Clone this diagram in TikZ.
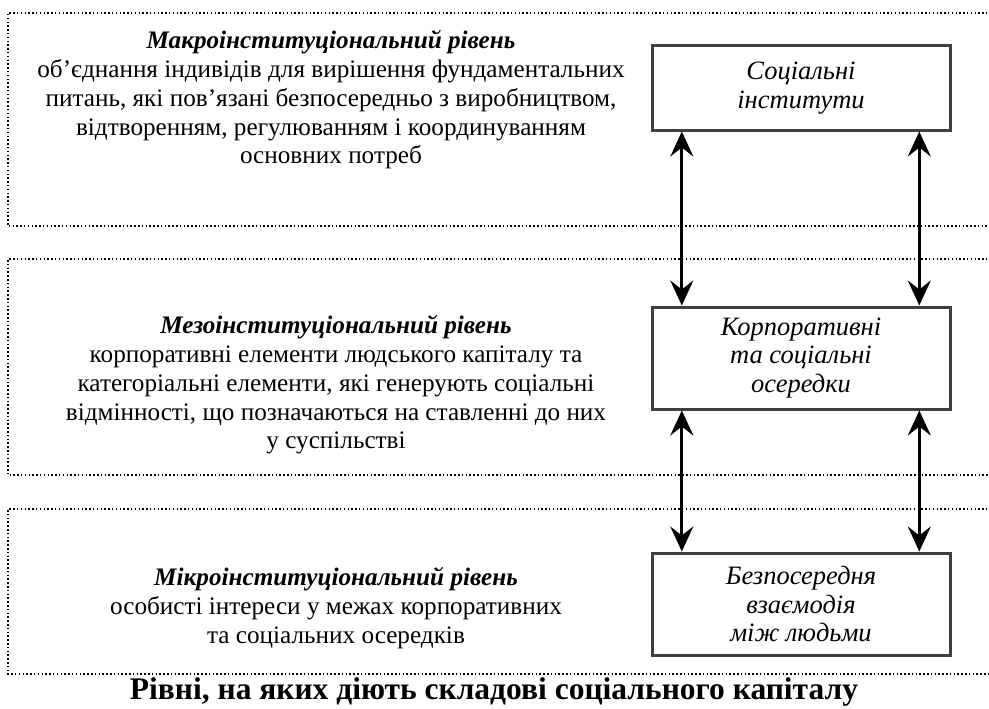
\documentclass[tikz,border=0pt]{standalone}
\usepackage{fontspec}
\setmainfont{Liberation Serif}
\usetikzlibrary{arrows.meta,calc}
\begin{document}
\begin{tikzpicture}[x=1pt,y=-1pt,
  band/.style={draw=black,line width=1.5pt,dash pattern=on 1.5pt off 2.3pt},
  levelbox/.style={draw=black!75,line width=3pt,fill=white,minimum width=298pt,inner sep=0pt,align=center,font=\fontsize{26.5}{28.6}\selectfont\itshape},
  leveltext/.style={align=center,inner sep=0pt,font=\fontsize{25.2}{28.8}\selectfont},
  arr/.style={line width=3pt,{Stealth[length=25pt,width=23pt,inset=9pt]}-{Stealth[length=25pt,width=23pt,inset=9pt]}}
]
\useasboundingbox (0,0) rectangle (989,709);
% bands
\draw[band] (995,13) -- (8,13) -- (8,226) -- (995,226);
\draw[band] (995,259) -- (8,259) -- (8,475) -- (995,475);
\draw[band] (995,509) -- (8,509) -- (8,674) -- (995,674);
% boxes
\node[levelbox,minimum height=84pt] (top) at (801,88) {Соціальні\\інститути};
\node[levelbox,minimum height=102pt] (mid) at (801,358) {Корпоративні\\та соціальні\\осередки};
\node[levelbox,minimum height=102pt] (bot) at (801,604) {Безпосередня\\взаємодія\\між людьми};
% arrows
\draw[arr] ($(top.south west)!0.104!(top.south east)$) -- ($(mid.north west)!0.104!(mid.north east)$);
\draw[arr] ($(top.south west)!0.893!(top.south east)$) -- ($(mid.north west)!0.893!(mid.north east)$);
\draw[arr] ($(mid.south west)!0.104!(mid.south east)$) -- ($(bot.north west)!0.104!(bot.north east)$);
\draw[arr] ($(mid.south west)!0.893!(mid.south east)$) -- ($(bot.north west)!0.893!(bot.north east)$);
% texts
\node[leveltext] (macro) at (331,100) {\textbf{\textit{Макроінституціональний рівень}}\\об’єднання індивідів для вирішення фундаментальних\\питань, які пов’язані безпосередньо з виробництвом,\\відтворенням, регулюванням і координуванням\\основних потреб};
\node[leveltext] (meso) at (336,385) {\textbf{\textit{Мезоінституціональний рівень}}\\корпоративні елементи людського капіталу та\\категоріальні елементи, які генерують соціальні\\відмінності, що позначаються на ставленні до них\\у суспільстві};
\node[leveltext] (micro) at (336,608) {\textbf{\textit{Мікроінституціональний рівень}}\\особисті інтереси у межах корпоративних\\та соціальних осередків};
\node[inner sep=0pt,font=\fontsize{31.5}{36}\selectfont\bfseries] (title) at (494,692) {Рівні, на яких діють складові соціального капіталу};
\end{tikzpicture}
\end{document}
